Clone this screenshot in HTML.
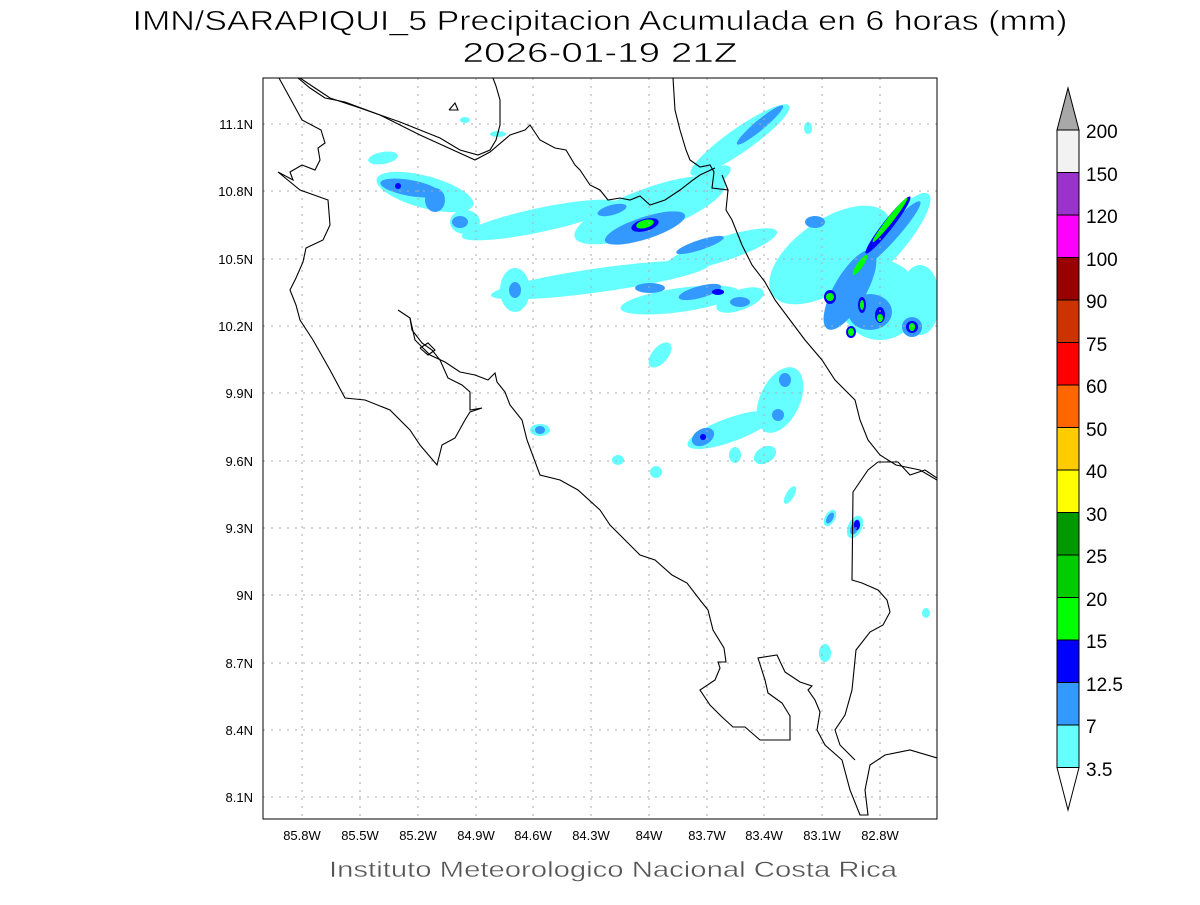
<!DOCTYPE html>
<html><head><meta charset="utf-8"><style>
body{margin:0;background:#fff;width:1200px;height:900px;overflow:hidden}
svg text{font-family:"Liberation Sans",sans-serif}
</style></head><body>
<svg width="1200" height="900" viewBox="0 0 1200 900" xmlns="http://www.w3.org/2000/svg">
<text x="600" y="30" font-size="28" text-anchor="middle" fill="#000" stroke="#fff" stroke-width="0.6" textLength="935" lengthAdjust="spacingAndGlyphs">IMN/SARAPIQUI_5 Precipitacion Acumulada en 6 horas (mm)</text>
<text x="600" y="62" font-size="28" text-anchor="middle" fill="#000" stroke="#fff" stroke-width="0.6" textLength="275" lengthAdjust="spacingAndGlyphs">2026-01-19 21Z</text>
<defs><clipPath id="c"><rect x="263" y="78" width="674" height="741"/></clipPath></defs>
<g clip-path="url(#c)">
<g fill="#66ffff">
<ellipse cx="383" cy="158" rx="15" ry="6" transform="rotate(-10 383 158)"/>
<ellipse cx="425" cy="192" rx="50" ry="16" transform="rotate(15 425 192)"/>
<ellipse cx="465" cy="222" rx="15" ry="12"/>
<ellipse cx="540" cy="220" rx="80" ry="12" transform="rotate(-12 540 220)"/>
<ellipse cx="650" cy="210" rx="80" ry="22" transform="rotate(-20 650 210)"/>
<ellipse cx="740" cy="140" rx="60" ry="12" transform="rotate(-35 740 140)"/>
<ellipse cx="700" cy="185" rx="35" ry="10" transform="rotate(-30 700 185)"/>
<ellipse cx="720" cy="250" rx="60" ry="12" transform="rotate(-18 720 250)"/>
<ellipse cx="600" cy="280" rx="110" ry="12" transform="rotate(-8 600 280)"/>
<ellipse cx="680" cy="300" rx="60" ry="12" transform="rotate(-8 680 300)"/>
<ellipse cx="515" cy="290" rx="15" ry="22"/>
<ellipse cx="740" cy="300" rx="25" ry="10" transform="rotate(-20 740 300)"/>
<ellipse cx="830" cy="255" rx="70" ry="35" transform="rotate(-35 830 255)"/>
<ellipse cx="880" cy="300" rx="40" ry="40"/>
<ellipse cx="890" cy="240" rx="60" ry="16" transform="rotate(-50 890 240)"/>
<ellipse cx="920" cy="300" rx="20" ry="35"/>
<ellipse cx="780" cy="400" rx="20" ry="35" transform="rotate(25 780 400)"/>
<ellipse cx="730" cy="430" rx="45" ry="12" transform="rotate(-20 730 430)"/>
<ellipse cx="660" cy="355" rx="8" ry="15" transform="rotate(40 660 355)"/>
<ellipse cx="540" cy="430" rx="10" ry="6"/>
<ellipse cx="618" cy="460" rx="6" ry="5"/>
<ellipse cx="656" cy="472" rx="6" ry="6"/>
<ellipse cx="765" cy="455" rx="12" ry="8" transform="rotate(-30 765 455)"/>
<ellipse cx="735" cy="455" rx="6" ry="8"/>
<ellipse cx="790" cy="495" rx="4" ry="10" transform="rotate(30 790 495)"/>
<ellipse cx="830" cy="518" rx="5" ry="9" transform="rotate(30 830 518)"/>
<ellipse cx="855" cy="527" rx="7" ry="12" transform="rotate(25 855 527)"/>
<ellipse cx="825" cy="653" rx="6" ry="9"/>
<ellipse cx="926" cy="613" rx="4" ry="5"/>
<ellipse cx="498" cy="134" rx="8" ry="3"/>
<ellipse cx="465" cy="120" rx="5" ry="3"/>
<ellipse cx="808" cy="128" rx="4" ry="6"/>
</g>
<g fill="#3399ff">
<ellipse cx="410" cy="188" rx="30" ry="8" transform="rotate(10 410 188)"/>
<ellipse cx="435" cy="200" rx="10" ry="12"/>
<ellipse cx="460" cy="222" rx="8" ry="6"/>
<ellipse cx="645" cy="228" rx="42" ry="11" transform="rotate(-18 645 228)"/>
<ellipse cx="612" cy="210" rx="15" ry="5" transform="rotate(-15 612 210)"/>
<ellipse cx="760" cy="125" rx="30" ry="5" transform="rotate(-40 760 125)"/>
<ellipse cx="700" cy="245" rx="25" ry="5" transform="rotate(-18 700 245)"/>
<ellipse cx="700" cy="292" rx="22" ry="6" transform="rotate(-15 700 292)"/>
<ellipse cx="740" cy="302" rx="10" ry="5"/>
<ellipse cx="650" cy="288" rx="15" ry="5"/>
<ellipse cx="850" cy="290" rx="45" ry="16" transform="rotate(-60 850 290)"/>
<ellipse cx="890" cy="235" rx="45" ry="7" transform="rotate(-48 890 235)"/>
<ellipse cx="870" cy="312" rx="22" ry="18"/>
<ellipse cx="912" cy="327" rx="10" ry="10"/>
<ellipse cx="815" cy="222" rx="10" ry="6"/>
<ellipse cx="515" cy="290" rx="6" ry="8"/>
<ellipse cx="703" cy="437" rx="12" ry="8" transform="rotate(-30 703 437)"/>
<ellipse cx="785" cy="380" rx="6" ry="7"/>
<ellipse cx="778" cy="415" rx="6" ry="6"/>
<ellipse cx="540" cy="430" rx="5" ry="4"/>
<ellipse cx="855" cy="527" rx="4" ry="8" transform="rotate(25 855 527)"/>
<ellipse cx="830" cy="518" rx="3" ry="6" transform="rotate(30 830 518)"/>
</g>
<g fill="#0000ff">
<ellipse cx="645" cy="225" rx="14" ry="6" transform="rotate(-15 645 225)"/>
<ellipse cx="888" cy="225" rx="36" ry="5" transform="rotate(-52 888 225)"/>
<ellipse cx="830" cy="297" rx="6" ry="7"/>
<ellipse cx="862" cy="305" rx="4" ry="8"/>
<ellipse cx="880" cy="315" rx="5" ry="8"/>
<ellipse cx="851" cy="332" rx="5" ry="6"/>
<ellipse cx="912" cy="327" rx="6" ry="6"/>
<ellipse cx="398" cy="186" rx="3" ry="3"/>
<ellipse cx="703" cy="437" rx="3" ry="3"/>
<ellipse cx="857" cy="525" rx="3" ry="5"/>
<ellipse cx="718" cy="292" rx="6" ry="3"/>
</g>
<g fill="#00ff00">
<ellipse cx="645" cy="224" rx="9" ry="4" transform="rotate(-15 645 224)"/>
<ellipse cx="890" cy="220" rx="28" ry="3" transform="rotate(-52 890 220)"/>
<ellipse cx="860" cy="265" rx="12" ry="3" transform="rotate(-55 860 265)"/>
<ellipse cx="830" cy="297" rx="4" ry="4"/>
<ellipse cx="862" cy="305" rx="2" ry="5"/>
<ellipse cx="880" cy="318" rx="3" ry="4"/>
<ellipse cx="851" cy="332" rx="3" ry="4"/>
<ellipse cx="912" cy="327" rx="3" ry="4"/>
</g>
<g stroke="#aaa" stroke-width="1" stroke-dasharray="2,6">
<line x1="302" y1="78" x2="302" y2="819"/><line x1="360" y1="78" x2="360" y2="819"/><line x1="418" y1="78" x2="418" y2="819"/><line x1="476" y1="78" x2="476" y2="819"/><line x1="533" y1="78" x2="533" y2="819"/><line x1="591" y1="78" x2="591" y2="819"/><line x1="649" y1="78" x2="649" y2="819"/><line x1="707" y1="78" x2="707" y2="819"/><line x1="764" y1="78" x2="764" y2="819"/><line x1="822" y1="78" x2="822" y2="819"/><line x1="880" y1="78" x2="880" y2="819"/>
<line x1="263" y1="124" x2="937" y2="124"/><line x1="263" y1="191" x2="937" y2="191"/><line x1="263" y1="259" x2="937" y2="259"/><line x1="263" y1="326" x2="937" y2="326"/><line x1="263" y1="393" x2="937" y2="393"/><line x1="263" y1="461" x2="937" y2="461"/><line x1="263" y1="528" x2="937" y2="528"/><line x1="263" y1="595" x2="937" y2="595"/><line x1="263" y1="663" x2="937" y2="663"/><line x1="263" y1="730" x2="937" y2="730"/><line x1="263" y1="797" x2="937" y2="797"/>
</g>
<g fill="none" stroke="#000" stroke-width="1.1">
<polyline points="279,78 290,98 302,120 321,130 325,143 318,148 320,160 315,170 302,165 290,172 293,180 278,172 300,190 314,195 328,200 330,225 323,240 306,248 303,262 296,278 290,290 296,305 300,320 313,340 330,370 345,398 365,400 390,410 410,430 420,445 437,465 442,445 455,438 465,420 470,412 482,408 470,410 470,392 462,385 448,378 440,360 432,350 422,343 412,330 410,318 398,310"/>
<polyline points="410,318 415,340 430,355 445,362 460,372 475,375 488,380 495,373 497,382 505,392 510,405 522,420 527,440 540,475 560,480 578,490 600,510 610,525 625,540 640,555 655,560 672,575 687,583 700,600 708,610 713,630 724,648 726,662 718,662 720,668 715,680 700,690 710,705 722,717 733,727 745,727 760,740 790,740 790,716 782,703 768,693 765,680 758,658 777,655 785,672 800,682 812,686 808,690 815,700 820,712 817,730 825,745 842,760 850,790 860,815 868,815 865,790 870,765 885,755 910,750 937,758"/>
<polyline points="298,78 310,88 325,98 345,102 380,115 420,135 475,160 490,152 510,135 525,130 530,125 540,140 555,148 566,150 575,165 580,170 590,185 600,190 608,200 620,198 630,200 640,196 650,205 665,200 680,190 693,180 700,175 715,168"/>
<polyline points="300,78 315,88 330,98 360,108 400,122 440,138 460,150 478,155 490,150 496,140 500,125 500,100 496,86 493,78"/>
<polyline points="449,110 455,103 458,110 449,110"/>
<polyline points="420,348 428,343 435,350 428,355 420,348"/>
<polyline points="673,78 675,110 680,130 686,150 690,160 700,167 710,165 714,172 712,188 728,190 726,210 732,220 742,245 752,265 765,282 775,300 790,320 805,340 822,360 835,380 855,400 860,420 868,440 880,455 896,465 920,470 937,480"/>
<polyline points="722,175 728,190"/>
<polyline points="937,478 925,470 910,475 898,462 878,462 868,470 853,492 852,580 862,583 878,590 887,600 890,612 883,625 870,632 856,650 852,690 845,715 835,730 840,745 855,760"/>
</g>
</g>
<rect x="263" y="78" width="674" height="741" fill="none" stroke="#000" stroke-width="1"/>
<g font-size="13" fill="#000" text-anchor="middle">
<text x="302" y="840">85.8W</text><text x="360" y="840">85.5W</text><text x="418" y="840">85.2W</text><text x="476" y="840">84.9W</text><text x="533" y="840">84.6W</text><text x="591" y="840">84.3W</text><text x="649" y="840">84W</text><text x="707" y="840">83.7W</text><text x="764" y="840">83.4W</text><text x="822" y="840">83.1W</text><text x="880" y="840">82.8W</text>
</g>
<g font-size="13" fill="#000" text-anchor="end">
<text x="253" y="129">11.1N</text><text x="253" y="196">10.8N</text><text x="253" y="264">10.5N</text><text x="253" y="331">10.2N</text><text x="253" y="398">9.9N</text><text x="253" y="466">9.6N</text><text x="253" y="533">9.3N</text><text x="253" y="600">9N</text><text x="253" y="668">8.7N</text><text x="253" y="735">8.4N</text><text x="253" y="802">8.1N</text>
</g>
<text x="613" y="877" font-size="22" fill="#555" stroke="#fff" stroke-width="0.4" text-anchor="middle" textLength="568" lengthAdjust="spacingAndGlyphs">Instituto Meteorologico Nacional Costa Rica</text>
<g stroke="#000" stroke-width="1">
<polygon points="1057,130 1068,88 1079,130" fill="#a8a8a8"/>
<rect x="1057" y="130" width="22" height="42.5" fill="#f2f2f2"/>
<rect x="1057" y="172.5" width="22" height="42.5" fill="#9933cc"/>
<rect x="1057" y="215" width="22" height="42.5" fill="#ff00ff"/>
<rect x="1057" y="257.5" width="22" height="42.5" fill="#990000"/>
<rect x="1057" y="300" width="22" height="42.5" fill="#cc3300"/>
<rect x="1057" y="342.5" width="22" height="42.5" fill="#ff0000"/>
<rect x="1057" y="385" width="22" height="42.5" fill="#ff6600"/>
<rect x="1057" y="427.5" width="22" height="42.5" fill="#ffcc00"/>
<rect x="1057" y="470" width="22" height="42.5" fill="#ffff00"/>
<rect x="1057" y="512.5" width="22" height="42.5" fill="#009900"/>
<rect x="1057" y="555" width="22" height="42.5" fill="#00cc00"/>
<rect x="1057" y="597.5" width="22" height="42.5" fill="#00ff00"/>
<rect x="1057" y="640" width="22" height="42.5" fill="#0000ff"/>
<rect x="1057" y="682.5" width="22" height="42.5" fill="#3399ff"/>
<rect x="1057" y="725" width="22" height="42.5" fill="#66ffff"/>
<polygon points="1057,767.5 1068,810 1079,767.5" fill="#fff"/>
</g>
<g font-size="19" fill="#000">
<text x="1086" y="138">200</text><text x="1086" y="181">150</text><text x="1086" y="223">120</text><text x="1086" y="266">100</text><text x="1086" y="308">90</text><text x="1086" y="351">75</text><text x="1086" y="393">60</text><text x="1086" y="436">50</text><text x="1086" y="478">40</text><text x="1086" y="521">30</text><text x="1086" y="563">25</text><text x="1086" y="606">20</text><text x="1086" y="648">15</text><text x="1086" y="691">12.5</text><text x="1086" y="733">7</text><text x="1086" y="776">3.5</text>
</g>
</svg>
</body></html>
